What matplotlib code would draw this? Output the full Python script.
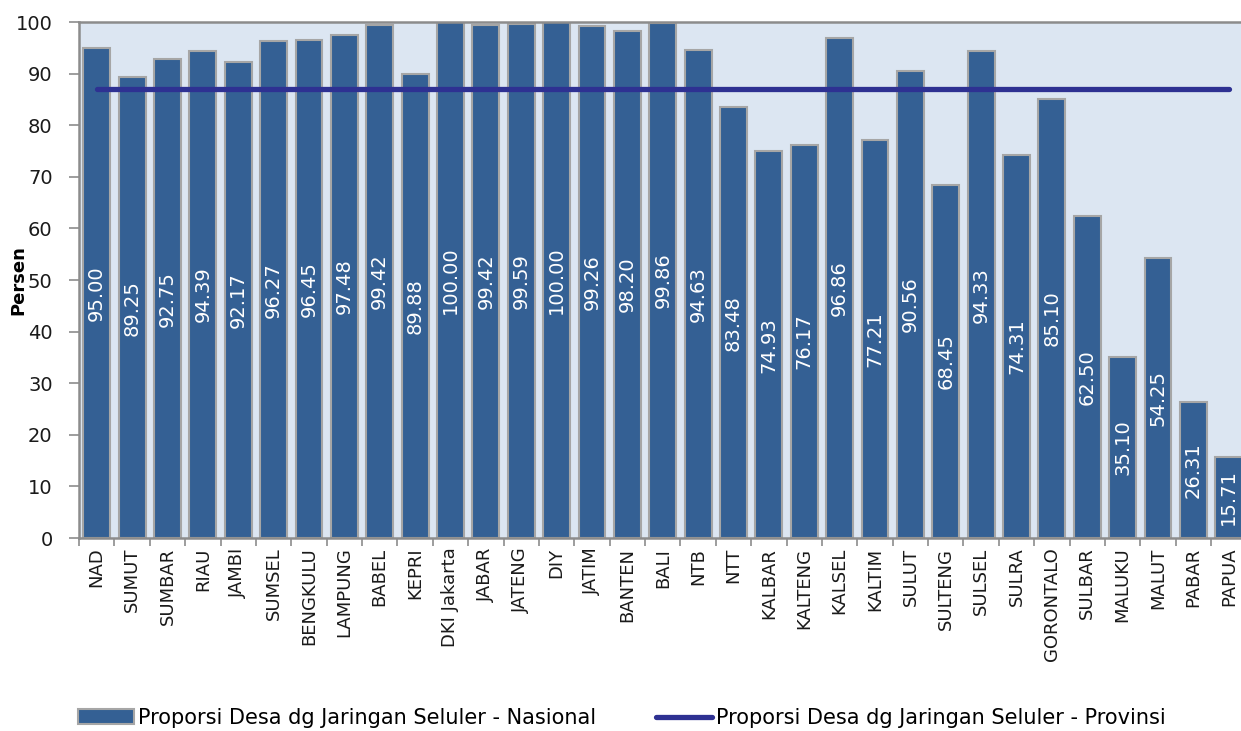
import matplotlib
matplotlib.use("Agg")
import matplotlib.pyplot as plt
from matplotlib.ticker import FixedLocator

# Data
provinsi = ["NAD", "SUMUT", "SUMBAR", "RIAU", "JAMBI", "SUMSEL", "BENGKULU",
            "LAMPUNG", "BABEL", "KEPRI", "DKI Jakarta", "JABAR", "JATENG",
            "DIY", "JATIM", "BANTEN", "BALI", "NTB", "NTT", "KALBAR", "KALTENG",
            "KALSEL", "KALTIM", "SULUT", "SULTENG", "SULSEL", "SULRA",
            "GORONTALO", "SULBAR", "MALUKU", "MALUT", "PABAR", "PAPUA"]
nilai = [95.00, 89.25, 92.75, 94.39, 92.17, 96.27, 96.45, 97.48, 99.42, 89.88,
         100.00, 99.42, 99.59, 100.00, 99.26, 98.20, 99.86, 94.63, 83.48, 74.93,
         76.17, 96.86, 77.21, 90.56, 68.45, 94.33, 74.31, 85.10, 62.50, 35.10,
         54.25, 26.31, 15.71]
rata_rata = 87.1
garis = [rata_rata] * len(provinsi)

bar_color = "#346094"
line_color = "#2e3192"
bg_color = "#dce6f2"
spine_color = "#8c8c8c"

plt.rcParams['font.family'] = ['DejaVu Sans']

fig = plt.figure(figsize=(12.41, 7.31), dpi=100)
ax = fig.add_axes([0.0637, 0.264, 0.9407, 0.7059])
ax.set_facecolor(bg_color)

x = list(range(len(provinsi)))
bars = ax.bar(x, nilai, width=0.76, color=bar_color, edgecolor="#a6a6a6",
              linewidth=1.5, label="Proporsi Desa dg Jaringan Seluler - Nasional",
              zorder=2)
line, = ax.plot(x, garis, color=line_color, linewidth=3.8, solid_capstyle="round",
                label="Proporsi Desa dg Jaringan Seluler - Provinsi", zorder=3)

ax.bar_label(bars, labels=[f"{v:.2f}" for v in nilai], label_type="center",
             rotation=90, color="white", fontsize=14)

ax.set_xlim(-0.5, len(provinsi) - 0.5)
ax.set_ylim(0, 100)
ax.set_yticks(range(0, 101, 10))
ax.tick_params(axis="y", labelsize=14, length=7, width=1.2, color=spine_color,
               direction="out", pad=12, labelcolor="#1a1a1a")

ax.set_xticks(x)
ax.set_xticklabels(provinsi, rotation=90, fontsize=13, color="#1a1a1a")
ax.tick_params(axis="x", which="major", length=0, pad=7)
ax.xaxis.set_minor_locator(FixedLocator([i - 0.5 for i in range(len(provinsi) + 1)]))
ax.tick_params(axis="x", which="minor", length=6, width=1.2, color=spine_color,
               direction="out")

for side in ["left", "bottom", "top"]:
    ax.spines[side].set_color(spine_color)
    ax.spines[side].set_linewidth(1.8)
ax.spines["right"].set_visible(False)

ax.set_ylabel("Persen", fontsize=13, fontweight="bold")
ax.yaxis.set_label_coords(-0.0445, 0.5)

fig.legend(handles=[bars, line], loc="center", bbox_to_anchor=(0.501, 0.018),
           ncol=2, frameon=False, fontsize=15, handlelength=2.7,
           handletextpad=0.15, columnspacing=2.9)

fig.savefig("out.png", dpi=100, facecolor="white")
